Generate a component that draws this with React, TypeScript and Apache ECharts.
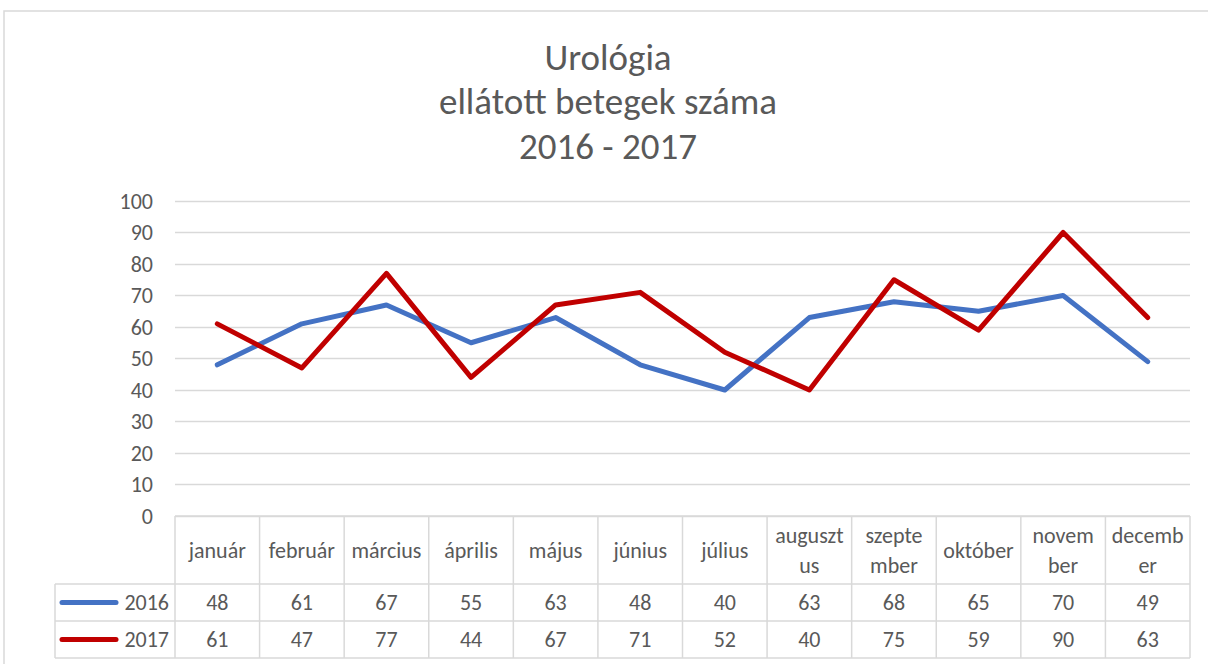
import React, { useEffect, useRef } from "react";
import * as echarts from "echarts";

const months = ["január", "február", "március", "április", "május", "június", "július", "augusztus", "szeptember", "október", "november", "december"];
const values2016 = [48, 61, 67, 55, 63, 48, 40, 63, 68, 65, 70, 49];
const values2017 = [61, 47, 77, 44, 67, 71, 52, 40, 75, 59, 90, 63];
const seriesNames = ["2016", "2017"];
const titleLines = ["Urológia", "ellátott betegek száma", "2016 - 2017"];
const wrapAt: Record<string, number> = { augusztus: 7, szeptember: 6, november: 5, december: 6 };

const FONT = "Carlito, Lato, 'Open Sans', sans-serif";
const TEXT = "#595959";
const GRID_LINE = "#d9d9d9";
const COLORS = ["#4472c4", "#c00000"];
const FS = 22;

const W = 1208;
const H = 664;
const G = { left: 175, right: 18, top: 201, bottom: 148 };

export default function App() {
  const ref = useRef<HTMLDivElement>(null);
  useEffect(() => {
    if (!ref.current) return;
    const chart = echarts.init(ref.current, undefined, { renderer: "svg" });
    const allSeries = [values2016, values2017];
    chart.setOption({
      animation: false,
      title: {
        text: titleLines.join("\n"),
        left: 608,
        textAlign: "center",
        top: 35,
        padding: 0,
        textStyle: { fontFamily: FONT, fontSize: 37, lineHeight: 44.5, fontWeight: "normal", color: TEXT },
      },
      grid: { left: G.left, right: G.right, top: G.top, bottom: G.bottom, containLabel: false },
      xAxis: {
        type: "category",
        data: months,
        boundaryGap: true,
        axisLine: { show: false },
        axisTick: { show: false },
        axisLabel: { show: false },
        splitLine: { show: false },
      },
      yAxis: {
        type: "value",
        min: 0,
        max: 100,
        interval: 10,
        axisLine: { show: false },
        axisTick: { show: false },
        axisLabel: { fontFamily: FONT, fontSize: FS, color: TEXT, margin: 22 },
        splitLine: { lineStyle: { color: GRID_LINE, width: 1.3 } },
      },
      series: allSeries.map((d, i) => ({
        type: "line",
        name: seriesNames[i],
        data: d,
        symbol: "none",
        lineStyle: { color: COLORS[i], width: 5, cap: "round", join: "round" },
        itemStyle: { color: COLORS[i] },
      })),
    });

    // Data table built from the axis' own pixel positions
    const c0 = chart.convertToPixel({ xAxisIndex: 0 }, 0) as number;
    const c1 = chart.convertToPixel({ xAxisIndex: 0 }, 1) as number;
    const step = c1 - c0;
    const yZero = chart.convertToPixel({ yAxisIndex: 0 }, 0) as number;
    const left = c0 - step / 2;
    const right = left + step * months.length;
    const headerBottom = yZero + 68;
    const rowH = 37;
    const legendLeft = 55;
    const tableBottom = headerBottom + rowH * 2;
    const els: any[] = [];
    const line = (x1: number, y1: number, x2: number, y2: number) =>
      els.push({ type: "line", shape: { x1, y1, x2, y2 }, style: { stroke: GRID_LINE, lineWidth: 1.5 }, silent: true });
    // outer chart border
    els.push({ type: "rect", shape: { x: 4, y: 11, width: W + 10, height: H + 10 }, style: { fill: "none", stroke: GRID_LINE, lineWidth: 1.5 }, silent: true });
    line(left, yZero, right, yZero);
    for (let r = 0; r < 3; r++) {
      const y = headerBottom + r * rowH;
      line(legendLeft, y, right, y);
    }
    for (let i = 0; i <= months.length; i++) {
      const x = left + i * step;
      line(x, yZero, x, tableBottom);
    }
    line(legendLeft, headerBottom, legendLeft, tableBottom);
    months.forEach((m, i) => {
      const cx = chart.convertToPixel({ xAxisIndex: 0 }, i) as number;
      const k = wrapAt[m];
      const txt = k ? m.slice(0, k) + "\n" + m.slice(k) : m;
      els.push({
        type: "text",
        x: cx,
        y: (yZero + headerBottom) / 2,
        style: { text: txt, fontFamily: FONT, fontSize: FS, lineHeight: 30, fill: TEXT, align: "center", verticalAlign: "middle" },
        silent: true,
      });
      allSeries.forEach((d, s) => {
        els.push({
          type: "text",
          x: cx,
          y: headerBottom + rowH * s + rowH / 2,
          style: { text: String(d[i]), fontFamily: FONT, fontSize: FS, fill: TEXT, align: "center", verticalAlign: "middle" },
          silent: true,
        });
      });
    });
    seriesNames.forEach((n, s) => {
      const y = headerBottom + rowH * s + rowH / 2;
      els.push({ type: "line", shape: { x1: 62, y1: y, x2: 116, y2: y }, style: { stroke: COLORS[s], lineWidth: 5, lineCap: "round" }, silent: true });
      els.push({
        type: "text",
        x: left - 6,
        y,
        style: { text: n, fontFamily: FONT, fontSize: FS, fill: TEXT, align: "right", verticalAlign: "middle" },
        silent: true,
      });
    });
    chart.setOption({ graphic: { elements: els } });
    return () => chart.dispose();
  }, []);
  return <div ref={ref} style={{ position: "absolute", left: 0, top: 0, width: W, height: H, background: "#fff" }} />;
}
